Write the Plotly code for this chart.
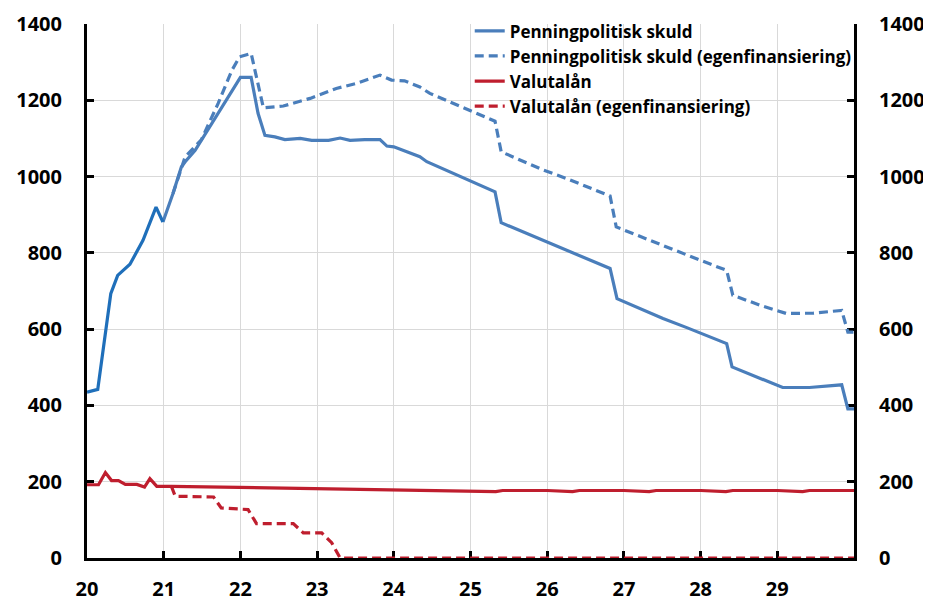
import plotly.graph_objects as go

# ---- data (decimal years, x = 20 means 2020) ----
years = [20, 21, 22, 23, 24, 25, 26, 27, 28, 29]
year_labels = ["20", "21", "22", "23", "24", "25", "26", "27", "28", "29"]
y_ticks = [0, 200, 400, 600, 800, 1000, 1200, 1400]

# Penningpolitisk skuld - historical part (darker blue segment)
hist_x = [20.0, 20.14, 20.31, 20.40, 20.56, 20.73, 20.90, 20.99]
hist_y = [435, 442, 693, 741, 770, 833, 920, 881]

# Penningpolitisk skuld
skuld_x = [20.99, 21.12, 21.23, 21.28, 21.41, 22.0, 22.14, 22.23, 22.32, 22.45, 22.58,
           22.78, 22.93, 23.15, 23.30, 23.43, 23.62, 23.82, 23.91, 24.0, 24.17, 24.34,
           24.43, 24.60, 24.82, 24.99, 25.32, 25.40, 25.73, 25.99, 26.25, 26.51, 26.82,
           26.91, 27.21, 27.51, 27.82, 27.99, 28.34, 28.41, 28.68, 28.86, 29.07, 29.42,
           29.84, 29.92, 30.0]
skuld_y = [881, 955, 1025, 1039, 1069, 1260, 1260, 1166, 1108, 1104, 1097,
           1100, 1095, 1095, 1101, 1095, 1097, 1097, 1080, 1078, 1065, 1052,
           1039, 1024, 1006, 989, 960, 879, 851, 829, 808, 784, 759,
           680, 654, 628, 604, 590, 562, 501, 479, 464, 447, 447,
           454, 391, 391]

# Penningpolitisk skuld (egenfinansiering)
egen_x = [21.12, 21.28, 21.49, 21.71, 21.89, 21.99, 22.14, 22.30, 22.56, 22.91, 23.25,
          23.51, 23.82, 23.97, 24.14, 24.34, 24.47, 24.77, 25.03, 25.32, 25.40, 25.95,
          26.25, 26.51, 26.82, 26.90, 27.29, 27.64, 27.99, 28.34, 28.42, 28.77, 29.12,
          29.47, 29.84, 29.92, 30.0]
egen_y = [955, 1052, 1096, 1192, 1279, 1314, 1323, 1180, 1185, 1205, 1231,
          1244, 1266, 1253, 1251, 1235, 1218, 1192, 1170, 1145, 1065, 1017,
          995, 973, 949, 868, 838, 809, 781, 754, 689, 663, 641,
          642, 649, 592, 592]

# Valutalån
val_x = [20.0, 20.15, 20.24, 20.32, 20.41, 20.50, 20.65, 20.75, 20.82, 20.91, 21.10,
         22.0, 23.0, 24.0, 25.0, 25.33, 25.42, 26.0, 26.33, 26.42, 27.0, 27.33, 27.42,
         28.0, 28.33, 28.42, 29.0, 29.33, 29.42, 30.0]
val_y = [192, 192, 224, 203, 203, 193, 193, 186, 208, 188, 188,
         185, 183, 180, 177, 174, 177, 177, 174, 177, 177, 174, 177,
         177, 174, 177, 177, 174, 177, 177]

# Valutalån (egenfinansiering)
valegen_x = [21.10, 21.15, 21.65, 21.75, 22.10, 22.21, 22.69, 22.82, 23.06, 23.19, 23.30, 30.0]
valegen_y = [188, 162, 160, 131, 127, 90, 90, 66, 66, 40, 0, 0]

BLUE = "#4A7EBB"
BLUE_DARK = "#1F6FBA"
RED = "#BF1E2E"
FONT = "Open Sans"

fig = go.Figure()
fig.add_trace(go.Scatter(x=skuld_x, y=skuld_y, mode="lines", name="Penningpolitisk skuld",
                         line=dict(color=BLUE, width=3.2), cliponaxis=False))
fig.add_trace(go.Scatter(x=egen_x, y=egen_y, mode="lines",
                         name="Penningpolitisk skuld (egenfinansiering)",
                         line=dict(color=BLUE, width=3.2, dash="9px,5px"), cliponaxis=False))
fig.add_trace(go.Scatter(x=val_x, y=val_y, mode="lines", name="Valutalån",
                         line=dict(color=RED, width=3.2), cliponaxis=False, yaxis="y2"))
fig.add_trace(go.Scatter(x=valegen_x, y=valegen_y, mode="lines",
                         name="Valutalån (egenfinansiering)",
                         line=dict(color=RED, width=3.2, dash="9px,5px"), cliponaxis=False,
                         yaxis="y2"))
fig.add_trace(go.Scatter(x=hist_x, y=hist_y, mode="lines", showlegend=False,
                         line=dict(color=BLUE_DARK, width=3.2), cliponaxis=False))

axis_common = dict(showline=True, linecolor="black", linewidth=3,
                   ticks="inside", ticklen=7, tickwidth=3, tickcolor="black",
                   tickfont=dict(family=FONT, size=20, color="black", weight="bold"),
                   zeroline=False, automargin=False)

# page has an 8px body margin, so the figure is sized/placed to compensate
fig.update_layout(
    width=923, height=592,
    margin=dict(l=79, r=77, t=16, b=42, autoexpand=False),
    paper_bgcolor="white", plot_bgcolor="white",
    showlegend=True,
    legend=dict(x=0.499, y=1.02, xanchor="left", yanchor="top",
                bgcolor="rgba(0,0,0,0)", borderwidth=0,
                font=dict(family=FONT, size=17, color="black", weight="bold"),
                tracegroupgap=0, itemwidth=30),
    xaxis=dict(range=[20, 30], tickvals=years, ticktext=year_labels,
               showgrid=True, gridcolor="#D9D9D9", gridwidth=1,
               ticklabelstandoff=11, layer="below traces", **axis_common),
    yaxis=dict(range=[0, 1400], tickvals=y_ticks, showgrid=True, gridcolor="#D9D9D9",
               gridwidth=1, ticklabelstandoff=18, layer="below traces", **axis_common),
    yaxis2=dict(range=[0, 1400], tickvals=y_ticks, overlaying="y", side="right",
                showgrid=False, ticklabelstandoff=18, layer="below traces", **axis_common),
)

fig.write_html("out.html")
